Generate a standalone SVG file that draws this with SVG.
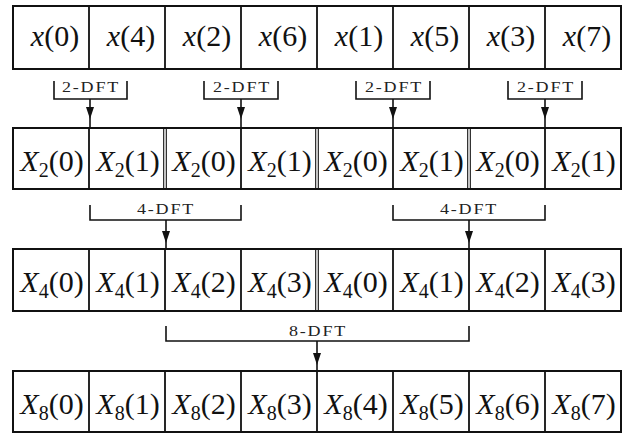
<svg xmlns="http://www.w3.org/2000/svg" width="625" height="435" viewBox="0 0 625 435">
<defs>
<style>
.box{fill:#fff;stroke:#111;stroke-width:2}
.div{stroke:#111;stroke-width:1.8}
.dbl{stroke:#111;stroke-width:1.1}
.m{font-family:"Liberation Serif","Times New Roman",serif;font-size:30px;fill:#111;text-anchor:middle}
.i{font-style:italic}
.s{font-size:20px}
.lbl{font-family:"Liberation Serif","Times New Roman",serif;font-size:15px;fill:#222;text-anchor:middle;letter-spacing:1.5px}
.br{fill:none;stroke:#111;stroke-width:1.6}
.ar{fill:none;stroke:#111;stroke-width:1.6;marker-mid:url(#ah)}
</style>
<marker id="ah" viewBox="0 0 12 8" refX="12" refY="4" markerWidth="12" markerHeight="8" markerUnits="userSpaceOnUse" orient="auto">
<path d="M0,0 L12,4 L0,8 z" fill="#111"/>
</marker>
</defs>
<rect width="625" height="435" fill="#fff"/>

<g id="row1">
<rect class="box" x="13" y="6" width="608" height="63"/>
<path class="div" d="M89,6V69M165,6V69M241,6V69M317,6V69M393,6V69M469,6V69M545,6V69"/>
<text class="m" x="55" y="46"><tspan class="i">x</tspan>(0)</text>
<text class="m" x="131" y="46"><tspan class="i">x</tspan>(4)</text>
<text class="m" x="207" y="46"><tspan class="i">x</tspan>(2)</text>
<text class="m" x="283" y="46"><tspan class="i">x</tspan>(6)</text>
<text class="m" x="359" y="46"><tspan class="i">x</tspan>(1)</text>
<text class="m" x="435" y="46"><tspan class="i">x</tspan>(5)</text>
<text class="m" x="511" y="46"><tspan class="i">x</tspan>(3)</text>
<text class="m" x="587" y="46"><tspan class="i">x</tspan>(7)</text>
</g>

<g id="row2">
<rect class="box" x="13" y="128" width="608" height="61"/>
<path class="div" d="M89,128V189M241,128V189M393,128V189M545,128V189"/>
<path class="dbl" d="M163.7,128V189M166.3,128V189M315.7,128V189M318.3,128V189M467.7,128V189M470.3,128V189"/>
<text class="m" x="52" y="171"><tspan class="i">X</tspan><tspan class="s" dy="6">2</tspan><tspan dy="-6">(0)</tspan></text>
<text class="m" x="128" y="171"><tspan class="i">X</tspan><tspan class="s" dy="6">2</tspan><tspan dy="-6">(1)</tspan></text>
<text class="m" x="204" y="171"><tspan class="i">X</tspan><tspan class="s" dy="6">2</tspan><tspan dy="-6">(0)</tspan></text>
<text class="m" x="280" y="171"><tspan class="i">X</tspan><tspan class="s" dy="6">2</tspan><tspan dy="-6">(1)</tspan></text>
<text class="m" x="356" y="171"><tspan class="i">X</tspan><tspan class="s" dy="6">2</tspan><tspan dy="-6">(0)</tspan></text>
<text class="m" x="432" y="171"><tspan class="i">X</tspan><tspan class="s" dy="6">2</tspan><tspan dy="-6">(1)</tspan></text>
<text class="m" x="508" y="171"><tspan class="i">X</tspan><tspan class="s" dy="6">2</tspan><tspan dy="-6">(0)</tspan></text>
<text class="m" x="584" y="171"><tspan class="i">X</tspan><tspan class="s" dy="6">2</tspan><tspan dy="-6">(1)</tspan></text>
</g>

<g id="row3">
<rect class="box" x="13" y="249" width="608" height="62"/>
<path class="div" d="M89,249V311M165,249V311M241,249V311M393,249V311M469,249V311M545,249V311"/>
<path class="dbl" d="M315.7,249V311M318.3,249V311"/>
<text class="m" x="52" y="292"><tspan class="i">X</tspan><tspan class="s" dy="6">4</tspan><tspan dy="-6">(0)</tspan></text>
<text class="m" x="128" y="292"><tspan class="i">X</tspan><tspan class="s" dy="6">4</tspan><tspan dy="-6">(1)</tspan></text>
<text class="m" x="204" y="292"><tspan class="i">X</tspan><tspan class="s" dy="6">4</tspan><tspan dy="-6">(2)</tspan></text>
<text class="m" x="280" y="292"><tspan class="i">X</tspan><tspan class="s" dy="6">4</tspan><tspan dy="-6">(3)</tspan></text>
<text class="m" x="356" y="292"><tspan class="i">X</tspan><tspan class="s" dy="6">4</tspan><tspan dy="-6">(0)</tspan></text>
<text class="m" x="432" y="292"><tspan class="i">X</tspan><tspan class="s" dy="6">4</tspan><tspan dy="-6">(1)</tspan></text>
<text class="m" x="508" y="292"><tspan class="i">X</tspan><tspan class="s" dy="6">4</tspan><tspan dy="-6">(2)</tspan></text>
<text class="m" x="584" y="292"><tspan class="i">X</tspan><tspan class="s" dy="6">4</tspan><tspan dy="-6">(3)</tspan></text>
</g>

<g id="row4">
<rect class="box" x="13" y="371" width="608" height="61"/>
<path class="div" d="M89,371V432M165,371V432M241,371V432M317,371V432M393,371V432M469,371V432M545,371V432"/>
<text class="m" x="52" y="414"><tspan class="i">X</tspan><tspan class="s" dy="6">8</tspan><tspan dy="-6">(0)</tspan></text>
<text class="m" x="128" y="414"><tspan class="i">X</tspan><tspan class="s" dy="6">8</tspan><tspan dy="-6">(1)</tspan></text>
<text class="m" x="204" y="414"><tspan class="i">X</tspan><tspan class="s" dy="6">8</tspan><tspan dy="-6">(2)</tspan></text>
<text class="m" x="280" y="414"><tspan class="i">X</tspan><tspan class="s" dy="6">8</tspan><tspan dy="-6">(3)</tspan></text>
<text class="m" x="356" y="414"><tspan class="i">X</tspan><tspan class="s" dy="6">8</tspan><tspan dy="-6">(4)</tspan></text>
<text class="m" x="432" y="414"><tspan class="i">X</tspan><tspan class="s" dy="6">8</tspan><tspan dy="-6">(5)</tspan></text>
<text class="m" x="508" y="414"><tspan class="i">X</tspan><tspan class="s" dy="6">8</tspan><tspan dy="-6">(6)</tspan></text>
<text class="m" x="584" y="414"><tspan class="i">X</tspan><tspan class="s" dy="6">8</tspan><tspan dy="-6">(7)</tspan></text>
</g>

<g id="connectors">
<path class="br" d="M54,81V99H127V81M204,81V99H278V81M356,81V99H430V81M508,81V99H582V81"/>
<path class="ar" d="M90,99V119V128"/>
<path class="ar" d="M241,99V119V128"/>
<path class="ar" d="M393,99V119V128"/>
<path class="ar" d="M545,99V119V128"/>
<path class="br" d="M90,205V220H241V205M393,205V220H545V205"/>
<path class="ar" d="M166,220V243V249"/>
<path class="ar" d="M469,220V243V249"/>
<path class="br" d="M166,326V341H469V326"/>
<path class="ar" d="M317,341V365V371"/>
<g class="lbl">
<text transform="translate(91,92) scale(1.2,1)">2-DFT</text>
<text transform="translate(242,92) scale(1.2,1)">2-DFT</text>
<text transform="translate(394,92) scale(1.2,1)">2-DFT</text>
<text transform="translate(546,92) scale(1.2,1)">2-DFT</text>
<text transform="translate(166,214) scale(1.2,1)">4-DFT</text>
<text transform="translate(469,214) scale(1.2,1)">4-DFT</text>
<text transform="translate(318,336) scale(1.2,1)">8-DFT</text>
</g>
</g>
</svg>
